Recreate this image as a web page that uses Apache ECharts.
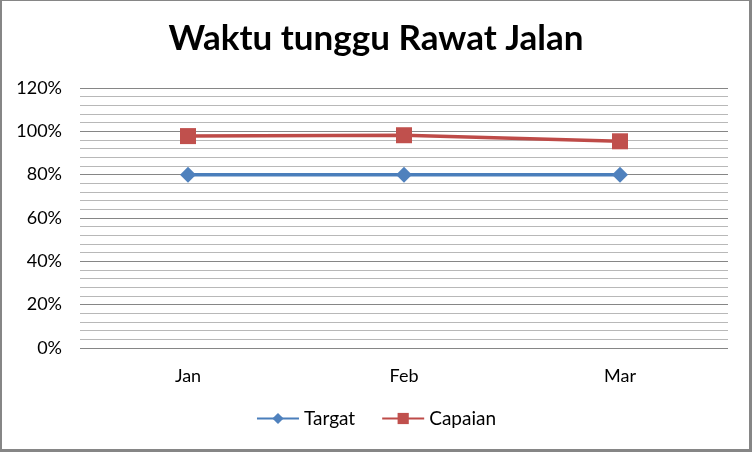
<!DOCTYPE html>
<html><head><meta charset="utf-8">
<script src="https://cdn.jsdelivr.net/npm/echarts@6/dist/echarts.min.js"></script>
<style>html,body{margin:0;padding:0;background:#fff}#c{width:752px;height:452px}</style>
</head><body><div id="c"></div>
<script>
const categories = ['Jan', 'Feb', 'Mar'];
const targat = [80, 80, 80];
const capaian = [97.8, 98.2, 95.4];
const yTicks = [0, 20, 40, 60, 80, 100, 120];

const chart = echarts.init(document.getElementById('c'), null, {renderer: 'canvas'});
const font = 'Lato, "Open Sans", sans-serif';
chart.setOption({
  animation: false,
  backgroundColor: '#fff',
  title: {
    text: 'Waktu tunggu Rawat Jalan', left: 'center', top: 16,
    textStyle: {fontFamily: font, fontWeight: 'bold', fontSize: 35, color: '#000'}
  },
  legend: {
    bottom: 19, left: 'center', itemWidth: 42, itemHeight: 14, itemGap: 26,
    textStyle: {fontFamily: font, fontSize: 19, color: '#000'},
    data: ['Targat', 'Capaian']
  },
  grid: {left: 80, right: 24, top: 88, bottom: 104},
  xAxis: {
    type: 'category', data: categories, boundaryGap: true,
    axisLine: {show: false}, axisTick: {show: false},
    axisLabel: {fontFamily: font, fontSize: 18, color: '#000', margin: 19}
  },
  yAxis: {
    type: 'value', min: yTicks[0], max: yTicks[yTicks.length - 1], interval: 20,
    axisLine: {show: false}, axisTick: {show: false},
    axisLabel: {fontFamily: font, fontSize: 18, color: '#000', margin: 18, formatter: v => v + '%'},
    splitLine: {lineStyle: {color: '#868686', width: 1}},
    minorTick: {show: false, splitNumber: 5},
    minorSplitLine: {show: true, lineStyle: {color: '#b8b8b8', width: 1}}
  },
  series: [
    {name: 'Targat', type: 'line', data: targat, symbol: 'diamond', symbolSize: 16,
     lineStyle: {color: '#4a7ebb', width: 3.5}, itemStyle: {color: '#4f81bd'}},
    {name: 'Capaian', type: 'line', data: capaian, symbol: 'rect', symbolSize: 16,
     lineStyle: {color: '#be4b48', width: 3.5}, itemStyle: {color: '#c0504d'}}
  ],
  graphic: [
    {type: 'rect', shape: {x: 0, y: 0, width: 752, height: 1}, style: {fill: '#868686'}, silent: true},
    {type: 'rect', shape: {x: 0, y: 0, width: 2, height: 452}, style: {fill: '#868686'}, silent: true},
    {type: 'rect', shape: {x: 749, y: 0, width: 3, height: 452}, style: {fill: '#868686'}, silent: true},
    {type: 'rect', shape: {x: 0, y: 449, width: 752, height: 3}, style: {fill: '#868686'}, silent: true}
  ]
});
</script></body></html>
